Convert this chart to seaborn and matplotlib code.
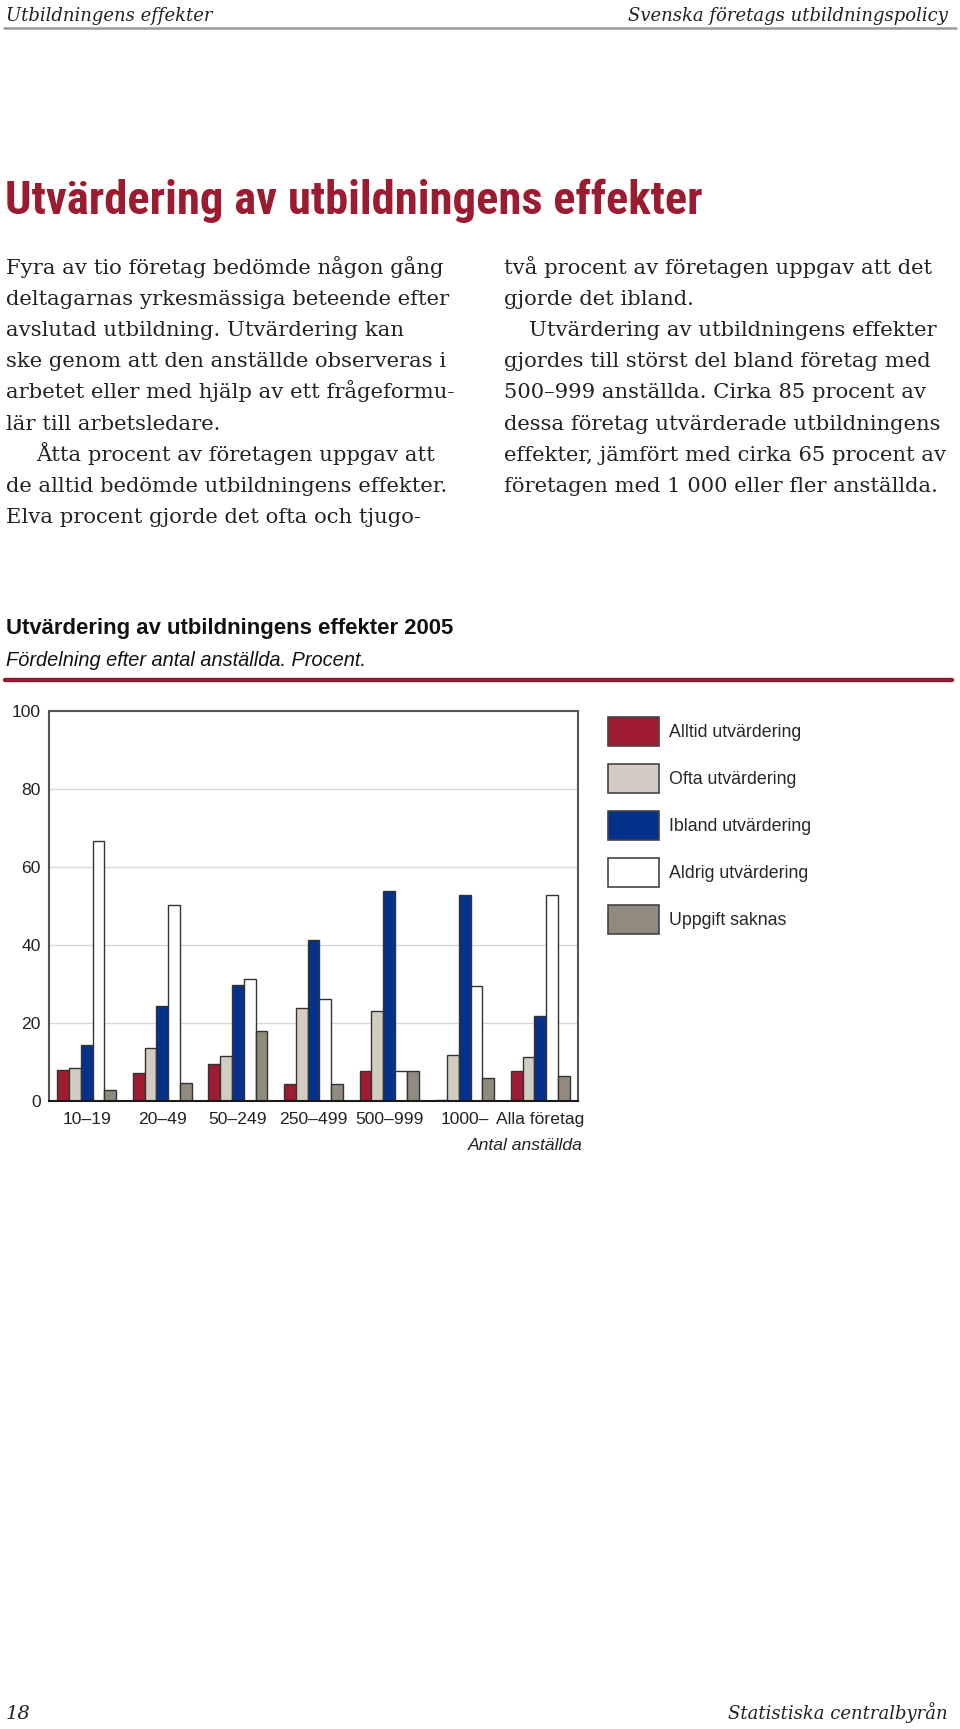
import matplotlib
matplotlib.use("Agg")
import matplotlib.pyplot as plt
from matplotlib import font_manager
from matplotlib.patches import Patch
from matplotlib.lines import Line2D
import seaborn as sns
import pandas as pd

# data (procent)
categories = ['10–19', '20–49', '50–249', '250–499', '500–999', '1000–', 'Alla företag']
series = ['Alltid utvärdering', 'Ofta utvärdering', 'Ibland utvärdering',
          'Aldrig utvärdering', 'Uppgift saknas']
alltid = [8.0, 7.1, 9.5, 4.4, 7.8, 0.2, 7.8]
ofta = [8.5, 13.5, 11.5, 23.8, 23.1, 11.8, 11.4]
ibland = [14.4, 24.4, 29.6, 41.3, 53.7, 52.7, 21.9]
aldrig = [66.5, 50.3, 31.2, 26.1, 7.8, 29.4, 52.7]
saknas = [2.7, 4.7, 18.0, 4.4, 7.8, 6.0, 6.3]
yticks = [0, 20, 40, 60, 80, 100]

colors = ['#9e1b32', '#d3ccc3', '#05318a', '#ffffff', '#918a7f']

rows = []
for name, vals in zip(series, [alltid, ofta, ibland, aldrig, saknas]):
    for cat, v in zip(categories, vals):
        rows.append({'Antal': cat, 'Procent': v, 'Typ': name})
df = pd.DataFrame(rows)

sns.set_style('white')
plt.rcParams['font.family'] = ['Liberation Sans', 'DejaVu Sans']

W, H = 960, 1729
fig = plt.figure(figsize=(W / 100, H / 100), dpi=100)
renderer = fig.canvas.get_renderer()


def fx(x):
    return x / W


def fy(y):
    return 1 - y / H


def fit_width(t, target):
    # scale font size so the text is target pixels wide
    for _ in range(3):
        w = t.get_window_extent(renderer).width
        t.set_fontsize(t.get_fontsize() * target / w)


# look for a narrow bold face for the big title
fonts = [(f.name, f.stretch) for f in font_manager.fontManager.ttflist]
narrow = None
for cand in ['Roboto Condensed', 'Liberation Sans Narrow', 'Open Sans Condensed']:
    if any(n == cand for n, s in fonts):
        narrow = (cand, 'normal')
        break
if narrow is None and any(n == 'DejaVu Sans' and s == 'condensed' for n, s in fonts):
    narrow = ('DejaVu Sans', 'condensed')
if narrow is None:
    narrow = ('Liberation Sans', 'normal')

serif = ['DejaVu Serif']
red = '#9b1b30'
ink = '#222222'

# page header
fig.text(fx(6), fy(21), 'Utbildningens effekter', family=serif, style='italic',
         fontsize=13, color=ink, va='baseline', ha='left')
fig.text(fx(948), fy(21), 'Svenska företags utbildningspolicy', family=serif, style='italic',
         fontsize=13, color=ink, va='baseline', ha='right')
fig.add_artist(Line2D([fx(4), fx(956)], [fy(28), fy(28)], color='#9a9a9a', lw=1.8))

# main title
title = fig.text(fx(5), fy(214), 'Utvärdering av utbildningens effekter',
                 family=[narrow[0], 'DejaVu Sans'], stretch=narrow[1], weight='bold',
                 fontsize=30, color=red, va='baseline', ha='left')
fit_width(title, 698)

# body text, two columns
left_col = [
    ('Fyra av tio företag bedömde någon gång', 0),
    ('deltagarnas yrkesmässiga beteende efter', 0),
    ('avslutad utbildning. Utvärdering kan', 0),
    ('ske genom att den anställde observeras i', 0),
    ('arbetet eller med hjälp av ett frågeformu-', 0),
    ('lär till arbetsledare.', 0),
    ('Åtta procent av företagen uppgav att', 30),
    ('de alltid bedömde utbildningens effekter.', 0),
    ('Elva procent gjorde det ofta och tjugo-', 0),
]
right_col = [
    ('två procent av företagen uppgav att det', 0),
    ('gjorde det ibland.', 0),
    ('Utvärdering av utbildningens effekter', 25),
    ('gjordes till störst del bland företag med', 0),
    ('500–999 anställda. Cirka 85 procent av', 0),
    ('dessa företag utvärderade utbildningens', 0),
    ('effekter, jämfört med cirka 65 procent av', 0),
    ('företagen med 1 000 eller fler anställda.', 0),
]
for x0, col in [(6, left_col), (504, right_col)]:
    for i, (line, ind) in enumerate(col):
        fig.text(fx(x0 + ind), fy(274 + i * 31.1), line, family=serif, fontsize=15.2,
                 color=ink, va='baseline', ha='left')

# chart title block
ct = fig.text(fx(6), fy(634), 'Utvärdering av utbildningens effekter 2005', weight='bold',
              fontsize=15.5, color='#111111', va='baseline', ha='left')
fit_width(ct, 446)
st = fig.text(fx(6), fy(666), 'Fördelning efter antal anställda. Procent.', style='italic',
              fontsize=14, color='#111111', va='baseline', ha='left')
fit_width(st, 362)
fig.add_artist(Line2D([fx(5), fx(952)], [fy(680), fy(680)], color='#8e1d33', lw=3.2))

# chart
ax = fig.add_axes([fx(49), fy(1101), 529 / W, 390.3 / H])
sns.barplot(data=df, x='Antal', y='Procent', hue='Typ', palette=colors, saturation=1,
            width=0.78, edgecolor='#333333', linewidth=1, legend=False, ax=ax, zorder=3)
ax.set_ylim(0, 100)
ax.set_yticks(yticks)
ax.set_xlabel('')
ax.set_ylabel('')
ax.grid(axis='y', color='#d8d8d8', lw=1, zorder=0)
ax.set_axisbelow(True)
for s in ax.spines.values():
    s.set_visible(True)
    s.set_color('#555555')
    s.set_linewidth(1.5)
ax.spines['bottom'].set_color('#1a1a1a')
ax.spines['bottom'].set_zorder(4)
ax.tick_params(axis='both', length=0, labelsize=12.6, colors=ink)
ax.tick_params(axis='x', pad=8)
ax.tick_params(axis='y', pad=6)

fig.text(fx(583), fy(1150), 'Antal anställda', style='italic', fontsize=12.6,
         color=ink, va='baseline', ha='right')

handles = [Patch(facecolor=c, edgecolor='#444444', lw=1.2) for c in colors]
fig.legend(handles, series, loc='upper left', bbox_to_anchor=(fx(608), fy(717)),
           frameon=False, fontsize=12.8, handlelength=2.87, handleheight=2.15,
           labelspacing=1.0, handletextpad=0.55, borderpad=0, borderaxespad=0)

# footer
fig.text(fx(6), fy(1719), '18', family=serif, style='italic', fontsize=14,
         color=ink, va='baseline', ha='left')
fig.text(fx(948), fy(1719), 'Statistiska centralbyrån', family=serif, style='italic',
         fontsize=13, color=ink, va='baseline', ha='right')

fig.savefig('out.png', dpi=100)
